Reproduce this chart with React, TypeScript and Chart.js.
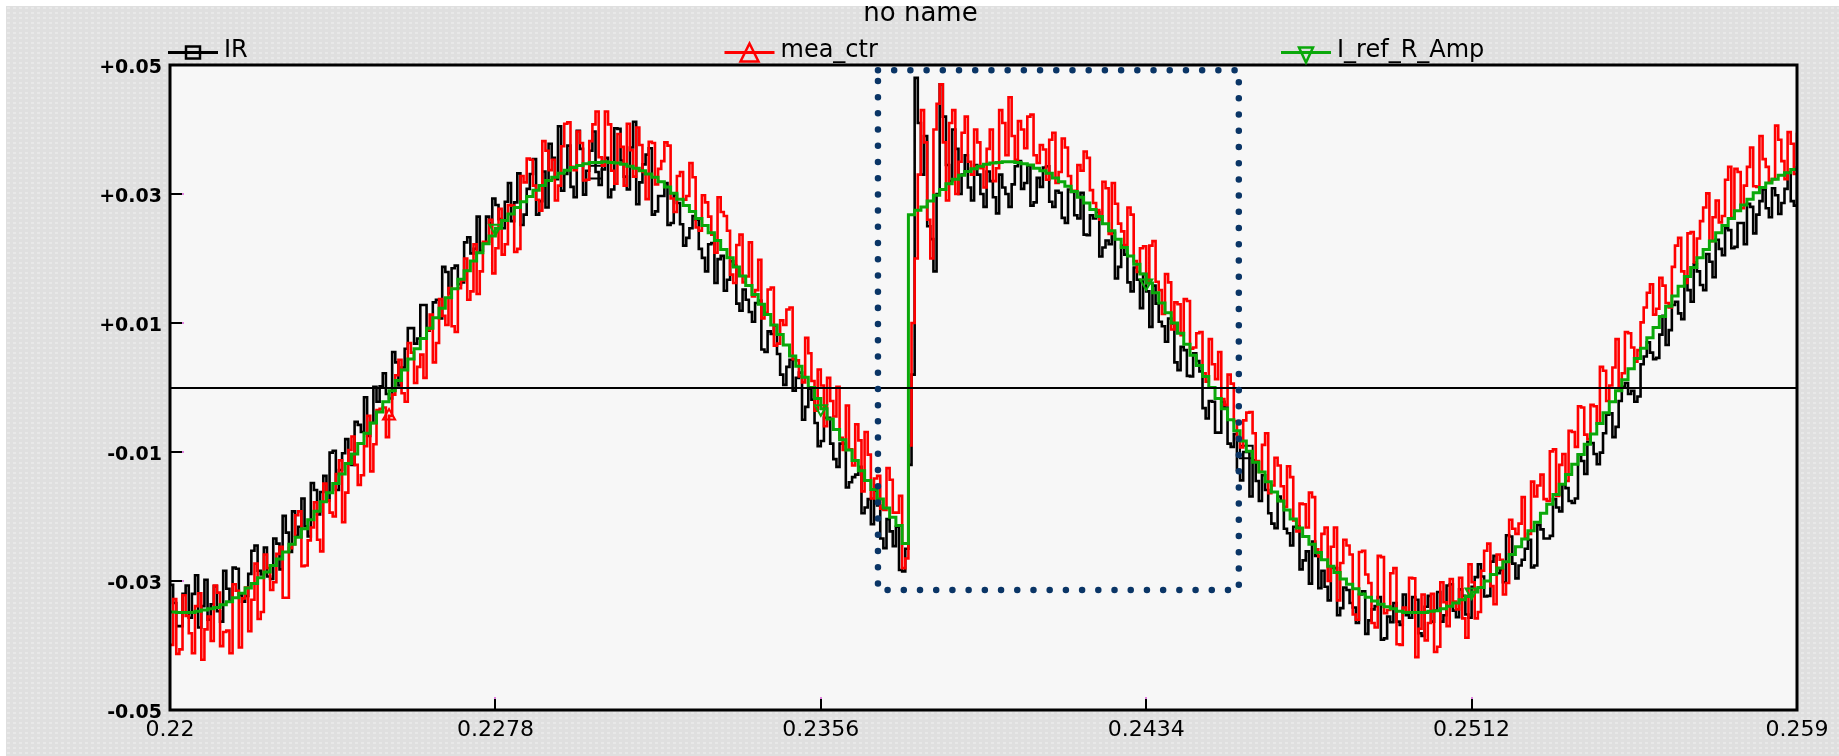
import React, { useEffect, useRef } from 'react';
import { Chart, registerables } from 'chart.js';

Chart.register(...registerables);

const CHART_TITLE = 'no name';
const SERIES_NAMES = ['IR', 'mea_ctr', 'I_ref_R_Amp'];
const SERIES_COLORS = ['#000000', '#ff0000', '#0aa80a'];

const X_TICKS = [0.22, 0.2278, 0.2356, 0.2434, 0.2512, 0.259];
const X_TICK_LABELS = ['0.22', '0.2278', '0.2356', '0.2434', '0.2512', '0.259'];
const Y_TICKS = [-0.05, -0.03, -0.01, 0.01, 0.03, 0.05];
const Y_TICK_LABELS = ['-0.05', '-0.03', '-0.01', '+0.01', '+0.03', '+0.05'];

// sample clock of the recorded signals (IR / mea_ctr also have a half-step sample in between)
const T_START = 0.22;
const T_STEP = 0.00015;

const IR = [
  -.0306,-.037,-.032,-.0357,-.0291,-.0339,-.036,-.0308,-.0363,-.0312,
  -.0279,-.0322,-.0323,-.0253,-.0284,-.0248,-.0297,-.0242,-.0199,-.0255,
  -.023,-.0172,-.0231,-.0159,-.0162,-.0175,-.0098,-.0128,-.008,-.012,
  -.0058,-.0015,-.0055,-.0022,.0022,-.0017,.0039,.0031,.0092,.0068,
  .0128,.0088,.0132,.0107,.0179,.0185,.016,.0225,.0208,.0265,
  .0223,.0255,.0283,.0247,.0317,.0287,.0252,.0308,.0354,.0289,
  .0279,.0356,.0405,.0331,.0311,.0398,.0299,.0367,.0334,.0338,
  .0295,.0402,.0352,.0307,.0412,.0318,.0361,.0268,.0297,.0317,
  .0255,.0286,.022,.0247,.026,.0201,.0222,.0162,.0204,.0167,
  .0189,.0119,.0136,.0102,.0135,.0055,.0083,.0052,.0004,.0043,
  .0015,-.005,-.0002,-.0055,-.0083,-.0047,-.0111,-.0087,-.0155,-.0139,
  -.0123,-.0186,-.0212,-.0183,-.0249,-.0223,-.0216,-.0285,-.012,.048,
  .033,.025,.018,.047,.0345,.04,.03,.036,.029,.033,
  .028,.032,.027,.031,.028,.0343,.0308,.0344,.0287,.0311,
  .0343,.028,.0302,.0255,.0303,.0262,.0237,.0267,.0272,.0217,
  .0222,.0169,.022,.0163,.0186,.0123,.0149,.0158,.0102,.0071,
  .0099,.0027,.0058,.0017,.0041,-.0032,-.0021,-.007,-.0022,-.0087,
  -.0072,-.0144,-.01,-.0113,-.0176,-.0159,-.0211,-.0169,-.0219,-.0245,
  -.0215,-.0268,-.0304,-.0261,-.0284,-.033,-.028,-.0342,-.0314,-.0341,
  -.0321,-.0382,-.0344,-.0325,-.0389,-.0364,-.0363,-.0321,-.0357,-.0329,
  -.0385,-.0323,-.0346,-.0363,-.0307,-.0346,-.0313,-.0352,-.0309,-.0274,
  -.0324,-.027,-.0288,-.0302,-.0231,-.0296,-.0267,-.0236,-.0276,-.022,
  -.0234,-.0173,-.0192,-.0156,-.0179,-.0104,-.0134,-.0086,-.0119,-.0071,
  -.004,-.0061,.0001,-.001,-.0022,.0036,.007,.0044,.0082,.0066,
  .0128,.0115,.0172,.0133,.018,.0151,.0195,.0229,.0205,.0244,
  .0218,.0255,.0285,.0239,.0289,.0278,.0309,.0269,.0308,.0289,
  .033,
];

const IR_MID = [
  -.0334,-.037,-.0307,-.032,-.0372,-.0298,-.0336,-.0347,-.0284,-.0332,
  -.0281,-.0332,-.0289,-.0245,-.029,-.0293,-.0234,-.0282,-.0225,-.0192,
  -.0216,-.0215,-.0148,-.0197,-.0137,-.0101,-.0159,-.0102,-.0119,-.0053,
  -.0069,-.0075,.0001,.0002,-.001,.0055,.0003,.006,.0092,.0076,
  .0128,.0092,.0136,.0187,.0146,.0189,.0163,.0233,.0215,.0212,
  .0265,.0293,.0261,.0288,.0258,.0332,.0268,.0331,.0268,.0335,
  .0378,.0323,.0305,.0375,.0295,.037,.0336,.0397,.0314,.0356,
  .0307,.0401,.0327,.0372,.0284,.0346,.0371,.0273,.0297,.0252,
  .0299,.0253,.0232,.0266,.0215,.018,.0224,.0199,.015,.0196,
  .013,.0152,.0117,.0131,.0059,.0087,.0096,.002,.0032,-.0005,
  .0023,-.003,-.0019,-.0091,-.0047,-.0087,-.0123,-.0087,-.0147,-.0135,
  -.0195,-.0173,-.016,-.0234,-.0204,-.0246,-.0283,-.025,.002,.041,
  .039,.023,.03,.042,.032,.037,.033,.031,.0345,.03,
  .0335,.0295,.033,.03,.0315,.0351,.0317,.0282,.0325,.0341,
  .0288,.0305,.0263,.0307,.0267,.0302,.0236,.0262,.0203,.0228,
  .024,.0187,.0206,.0149,.0167,.0176,.0094,.013,.0095,.0107,
  .0039,.0063,.0018,.0053,.0025,-.0048,-.0022,-.007,-.0031,-.0092,
  -.0128,-.01,-.0169,-.0145,-.0136,-.0195,-.0218,-.0176,-.0226,-.0216,
  -.0282,-.0254,-.0239,-.0311,-.0309,-.0279,-.0353,-.031,-.0334,-.0365,
  -.0316,-.0361,-.0339,-.0391,-.0355,-.0334,-.0368,-.0353,-.0325,-.0381,
  -.034,-.0363,-.0317,-.0353,-.0305,-.0356,-.0323,-.0357,-.0294,-.0293,
  -.0323,-.0261,-.0283,-.0229,-.0273,-.0276,-.025,-.0279,-.0213,-.0234,
  -.023,-.0186,-.015,-.0176,-.0172,-.0114,-.0084,-.0103,-.0101,-.0042,
  -.0077,-.0021,.0007,-.0005,-.0014,.0048,.0054,.0046,.0111,.0089,
  .0133,.0106,.0151,.0191,.0159,.0207,.0171,.0215,.0247,.0216,
  .0255,.0222,.028,.0268,.0307,.0264,.0298,.0286,.0333,.0282,
];

const MEA_CTR = [
  -.0399,-.0413,-.0322,-.0381,-.0339,-.0422,-.0355,-.0307,-.0401,-.0377,
  -.0305,-.0403,-.031,-.0329,-.0359,-.0259,-.0314,-.0258,-.0326,-.0249,
  -.0198,-.0277,-.0237,-.0178,-.0254,-.0175,-.02,-.0113,-.0163,-.0076,
  -.0151,-.0091,-.013,-.0035,-.0031,-.0044,.0019,-.0009,.0069,.0007,
  .0051,.0089,.0039,.0137,.0097,.0095,.0154,.02,.0149,.0145,
  .0226,.026,.0216,.0206,.0283,.021,.0328,.0355,.0313,.0274,
  .0367,.0353,.0313,.0409,.0342,.0397,.0321,.0382,.0428,.0344,
  .0408,.0316,.0373,.0409,.0327,.0376,.0292,.0379,.0339,.038,
  .0293,.0328,.0291,.0348,.0248,.0298,.0265,.0209,.0272,.0243,
  .0162,.0237,.0172,.0141,.0198,.0116,.0155,.0068,.0097,.0124,
  .0042,.0008,.0053,-.0036,.0003,.0015,-.0045,-.0078,-.0028,-.0121,
  -.0082,-.0069,-.0172,-.0137,-.019,-.0143,-.0194,-.028,-.009,.02,
  .043,.026,.04,.047,.029,.043,.035,.042,.033,.038,
  .031,.04,.034,.041,.045,.0353,.04,.042,.036,.0376,
  .0322,.0395,.0334,.0372,.0304,.0345,.0366,.0306,.0275,.0319,
  .0238,.0285,.0242,.0279,.0196,.0216,.0162,.0227,.0151,.0176,
  .009,.0129,.0137,.006,.0084,.0022,.0075,.0013,-.0018,.002,
  -.0052,-.0093,-.0039,-.0071,-.0131,-.0071,-.0152,-.0121,-.0185,-.0139,
  -.0223,-.0181,-.0163,-.0251,-.0227,-.03,-.0217,-.0272,-.0245,-.0352,
  -.0255,-.029,-.0365,-.0261,-.035,-.0288,-.0398,-.0341,-.0295,-.0418,
  -.0321,-.0365,-.041,-.0302,-.037,-.0332,-.0295,-.0388,-.0302,-.0348,
  -.0253,-.0308,-.0259,-.0321,-.0205,-.0227,-.017,-.0227,-.0169,-.0135,
  -.0176,-.0096,-.012,-.0145,-.0069,-.0029,-.0073,-.0027,-.0056,.0026,
  .0003,.0075,.0022,.0084,.004,.0101,.0147,.0113,.017,.0131,
  .0187,.0232,.0162,.0241,.0231,.0279,.0227,.029,.0266,.0342,
  .0339,.0278,.0342,.0312,.039,.0342,.0323,.0384,.0323,.0378,
  .0395,
];

const MEA_CTR_MID = [
  -.0328,-.0406,-.0354,-.0412,-.0319,-.0375,-.0393,-.0318,-.0379,-.0412,
  -.0315,-.0327,-.0378,-.0273,-.0348,-.028,-.0302,-.0247,-.0326,-.0243,
  -.0192,-.0276,-.0217,-.0236,-.0149,-.0194,-.0134,-.0209,-.0097,-.012,
  -.0136,-.0044,-.0088,-.0033,-.0077,-.0011,.0043,-.0022,.0054,.0032,
  .0015,.0113,.0069,.0111,.0154,.0086,.0166,.0136,.0222,.018,
  .0226,.0177,.0277,.0222,.0282,.0215,.0318,.0353,.0291,.0382,
  .0337,.029,.0374,.0411,.0337,.0379,.0322,.0408,.0357,.0428,
  .0336,.0393,.0313,.0368,.0403,.0334,.0381,.0315,.0351,.0375,
  .0272,.0334,.0297,.0326,.0243,.0287,.0237,.0295,.0266,.0175,
  .0221,.0163,.0225,.0151,.0107,.0152,.0065,.0104,.0121,.0044,
  .0017,.0077,.001,.0028,-.006,-.0021,.0001,-.0097,-.0096,-.0057,
  -.0161,-.0104,-.0141,-.0188,-.0125,-.0194,-.0168,-.0265,.01,.033,
  .038,.02,.044,.038,.041,.03,.0395,.035,.04,.034,
  .037,.032,.043,.036,.039,.0413,.0371,.0423,.0348,.0369,
  .0384,.0317,.0386,.0328,.0305,.0336,.0356,.0286,.026,.0309,
  .0317,.0254,.0221,.0268,.0179,.0219,.022,.0164,.0114,.0163,
  .0132,.0081,.0134,.0062,.0086,.0009,.0036,.0055,-.0027,.0006,
  -.008,-.0051,-.0038,-.0114,-.0089,-.0164,-.0109,-.0153,-.0122,-.0206,
  -.018,-.0217,-.017,-.0262,-.0217,-.0247,-.033,-.0236,-.0259,-.036,
  -.0253,-.0303,-.0372,-.0263,-.0345,-.028,-.0399,-.0348,-.0296,-.0374,
  -.0392,-.032,-.0402,-.0333,-.0297,-.0344,-.0358,-.0274,-.0358,-.0284,
  -.0242,-.0336,-.0267,-.0303,-.0219,-.0211,-.0234,-.0146,-.0152,-.0173,
  -.0099,-.0168,-.0103,-.0067,-.0092,-.0031,-.008,-.0029,.0032,-.0021,
  .0031,-.0001,.0086,.0062,.0058,.0124,.016,.0122,.0158,.0124,
  .022,.018,.0239,.0194,.0258,.0301,.0264,.0256,.0322,.0263,
  .0334,.0313,.0372,.0311,.0354,.032,.0406,.0351,.0396,.0331,
];

const I_REF_R_AMP = [
  -.0348,-.0349,-.0349,-.0349,-.0347,-.0345,-.0343,-.0341,-.0337,-.0332,
  -.0326,-.0319,-.0311,-.0304,-.0295,-.0286,-.0276,-.0266,-.0255,-.0243,
  -.0232,-.0219,-.0205,-.0192,-.0177,-.0163,-.0149,-.0134,-.0118,-.0103,
  -.0087,-.0071,-.0055,-.0038,-.0022,-.0005,.0011,.0027,.0044,.006,
  .0076,.0092,.0108,.0123,.0139,.0153,.0168,.0181,.0196,.0209,
  .0223,.0235,.0247,.0259,.0269,.0279,.0288,.0296,.0306,.0313,
  .0321,.0326,.0332,.0337,.0341,.0344,.0347,.0349,.0349,.035,
  .0349,.0348,.0346,.0343,.034,.0336,.0331,.0326,.0319,.0311,
  .0301,.0292,.0282,.0273,.0262,.0251,.024,.0228,.0214,.0201,
  .0187,.0173,.0158,.0144,.0129,.0113,.0097,.0082,.0066,.0049,
  .0033,.0016,0,-.0017,-.0033,-.0049,-.0065,-.0081,-.0097,-.0113,
  -.0129,-.0144,-.0158,-.0173,-.0187,-.0201,-.0214,-.0242,.0268,.0275,
  .028,.0289,.0298,.0307,.0316,.0323,.0329,.0335,.0339,.0343,
  .0346,.0348,.0349,.035,.035,.0349,.0347,.0345,.034,.0336,
  .0332,.0325,.0319,.0312,.0304,.0295,.0286,.0276,.0265,.0254,
  .0243,.023,.0217,.0204,.0191,.0176,.0162,.0147,.0131,.0116,
  .01,.0084,.0067,.005,.0034,.0017,0,-.0017,-.0033,-.005,
  -.0067,-.0083,-.0099,-.0116,-.0131,-.0146,-.0162,-.0176,-.019,-.0204,
  -.0218,-.0231,-.0243,-.0256,-.0267,-.0277,-.0287,-.0297,-.0305,-.0312,
  -.032,-.0325,-.0331,-.0336,-.034,-.0343,-.0347,-.0349,-.0349,-.0349,
  -.0349,-.0347,-.0346,-.0343,-.0339,-.0334,-.0329,-.0324,-.0317,-.031,
  -.03,-.029,-.028,-.027,-.0259,-.0247,-.0235,-.0222,-.0209,-.0195,
  -.0181,-.0166,-.015,-.0135,-.0119,-.0104,-.0088,-.0072,-.0056,-.0039,
  -.0022,-.0005,.0012,.0029,.0045,.0061,.0077,.0093,.011,.0126,
  .0142,.0157,.0172,.0186,.0201,.0214,.0227,.024,.0251,.0262,
  .0274,.0283,.0292,.0302,.031,.0317,.0323,.0329,.0333,.0338,
  .0343,
];

// sample indices carrying a series marker
const IR_MARKERS = [68, 172];
const MEA_MARKERS = [35];
const REF_MARKERS = [52, 104, 156, 208];

// highlighted region (data units)
const BOX_X = [0.23697, 0.24562];
const BOX_Y = [-0.0314, 0.0492];

const toPoints = (arr: number[]) => arr.map((v, i) => ({ x: T_START + i * T_STEP, y: v }));
const interleave = (main: number[], mid: number[]) => {
  const pts: { x: number; y: number }[] = [];
  main.forEach((v, i) => {
    pts.push({ x: T_START + i * T_STEP, y: v });
    if (i < mid.length) pts.push({ x: T_START + (i + 0.5) * T_STEP, y: mid[i] });
  });
  return pts;
};
const radii = (n: number, marks: number[], r: number, stride: number) =>
  Array.from({ length: n }, (_, k) => (k % stride === 0 && marks.includes(k / stride) ? r : 0));

function makePattern(ctx: CanvasRenderingContext2D) {
  const pc = document.createElement('canvas');
  pc.width = 6;
  pc.height = 5;
  const p = pc.getContext('2d')!;
  p.fillStyle = '#dfdfdf';
  p.fillRect(0, 0, 6, 5);
  p.fillStyle = '#e8e8e8';
  p.fillRect(1, 1, 3, 2);
  return ctx.createPattern(pc, 'repeat')!;
}

const framePlugin = {
  id: 'framePlugin',
  beforeDraw(chart: any) {
    const { ctx, chartArea: a, width, height } = chart;
    ctx.save();
    ctx.fillStyle = makePattern(ctx);
    ctx.fillRect(0, 0, width, height);
    ctx.fillStyle = '#f7f7f7';
    ctx.fillRect(a.left, a.top, a.right - a.left, a.bottom - a.top);
    ctx.restore();
  },
  afterDatasetsDraw(chart: any) {
    const { ctx, chartArea: a } = chart;
    const xs = chart.scales.x;
    const ys = chart.scales.y;
    ctx.save();
    const y0 = Math.round(ys.getPixelForValue(0));
    ctx.strokeStyle = '#000';
    ctx.lineWidth = 2;
    ctx.beginPath();
    ctx.moveTo(a.left, y0);
    ctx.lineTo(a.right, y0);
    ctx.stroke();
    const bx0 = xs.getPixelForValue(BOX_X[0]);
    const bx1 = xs.getPixelForValue(BOX_X[1]);
    const by0 = ys.getPixelForValue(BOX_Y[1]);
    const by1 = ys.getPixelForValue(BOX_Y[0]);
    ctx.strokeStyle = '#0a3566';
    ctx.lineWidth = 6.5;
    ctx.lineCap = 'round';
    ctx.setLineDash([0.01, 16.2]);
    ctx.beginPath();
    ctx.moveTo(bx0, by0);
    ctx.lineTo(bx1, by0);
    ctx.lineTo(bx1, by1);
    ctx.lineTo(bx0, by1);
    ctx.closePath();
    ctx.stroke();
    ctx.setLineDash([]);
    ctx.lineCap = 'butt';
    ctx.lineWidth = 2;
    Y_TICKS.forEach((v) => {
      if (v <= -0.05 || v >= 0.05) return;
      const py = Math.round(ys.getPixelForValue(v));
      ctx.strokeStyle = '#000';
      ctx.beginPath();
      ctx.moveTo(a.left, py);
      ctx.lineTo(a.left + 12, py);
      ctx.stroke();
      ctx.strokeStyle = '#e080e0';
      ctx.beginPath();
      ctx.moveTo(a.left + 12, py);
      ctx.lineTo(a.left + 14, py);
      ctx.stroke();
    });
    X_TICKS.forEach((v) => {
      if (v <= 0.22 || v >= 0.259) return;
      const px = Math.round(xs.getPixelForValue(v));
      ctx.strokeStyle = '#000';
      ctx.beginPath();
      ctx.moveTo(px, a.bottom);
      ctx.lineTo(px, a.bottom - 11);
      ctx.stroke();
      ctx.strokeStyle = '#e080e0';
      ctx.beginPath();
      ctx.moveTo(px, a.bottom - 11);
      ctx.lineTo(px, a.bottom - 13);
      ctx.stroke();
    });
    ctx.strokeStyle = '#000';
    ctx.lineWidth = 3;
    ctx.strokeRect(a.left, a.top, a.right - a.left, a.bottom - a.top);
    ctx.restore();
  },
  afterDraw(chart: any) {
    const { ctx, chartArea: a, width } = chart;
    ctx.save();
    ctx.fillStyle = '#000';
    ctx.font = '26px "DejaVu Sans"';
    ctx.textAlign = 'center';
    ctx.textBaseline = 'alphabetic';
    ctx.fillText(CHART_TITLE, width / 2 - 2, 15);

    ctx.textAlign = 'left';
    ctx.font = '24px "DejaVu Sans"';
    const lineY = 46.5;
    SERIES_NAMES.forEach((name, k) => {
      const x0 = a.left - 2 + k * 556.5;
      const color = SERIES_COLORS[k];
      const cx = x0 + 25;
      ctx.strokeStyle = color;
      ctx.lineWidth = 3;
      ctx.beginPath();
      ctx.moveTo(x0, lineY);
      ctx.lineTo(x0 + 50, lineY);
      ctx.stroke();
      ctx.lineWidth = 2.5;
      ctx.beginPath();
      if (k === 0) {
        ctx.rect(cx - 7, lineY - 6, 14, 12);
      } else if (k === 1) {
        ctx.moveTo(cx, lineY - 9);
        ctx.lineTo(cx + 9, lineY + 9);
        ctx.lineTo(cx - 9, lineY + 9);
        ctx.closePath();
      } else {
        ctx.moveTo(cx - 7, lineY - 5);
        ctx.lineTo(cx + 7, lineY - 5);
        ctx.lineTo(cx, lineY + 10);
        ctx.closePath();
      }
      ctx.stroke();
      ctx.fillStyle = '#000';
      ctx.fillText(name, x0 + 56, 51);
    });
    ctx.restore();
  },
};

export default function App() {
  const ref = useRef<HTMLCanvasElement | null>(null);

  useEffect(() => {
    document.documentElement.style.overflow = 'hidden';
    document.body.style.overflow = 'hidden';
    document.body.style.margin = '6px 0 0 6px';
    const canvas = ref.current!;
    const irPts = interleave(IR, IR_MID);
    const meaPts = interleave(MEA_CTR, MEA_CTR_MID);
    const chart = new Chart(canvas, {
      type: 'line',
      data: {
        datasets: [
          {
            label: SERIES_NAMES[0],
            data: irPts,
            borderColor: SERIES_COLORS[0],
            borderWidth: 2.6,
            stepped: true,
            pointRadius: radii(irPts.length, IR_MARKERS, 9, 2),
            pointStyle: 'rect',
            pointBorderColor: SERIES_COLORS[0],
            pointBackgroundColor: 'rgba(0,0,0,0)',
            pointBorderWidth: 2,
            order: 2,
          },
          {
            label: SERIES_NAMES[1],
            data: meaPts,
            borderColor: SERIES_COLORS[1],
            borderWidth: 2.6,
            stepped: true,
            pointRadius: radii(meaPts.length, MEA_MARKERS, 7, 2),
            pointStyle: 'triangle',
            pointBorderColor: SERIES_COLORS[1],
            pointBackgroundColor: 'rgba(0,0,0,0)',
            pointBorderWidth: 2,
            order: 1,
          },
          {
            label: SERIES_NAMES[2],
            data: toPoints(I_REF_R_AMP),
            borderColor: SERIES_COLORS[2],
            borderWidth: 3,
            stepped: true,
            pointRadius: radii(I_REF_R_AMP.length, REF_MARKERS, 7, 1),
            pointStyle: 'triangle',
            pointRotation: 180,
            pointBorderColor: SERIES_COLORS[2],
            pointBackgroundColor: 'rgba(0,0,0,0)',
            pointBorderWidth: 2,
            order: 0,
          },
        ] as any,
      },
      options: {
        animation: false,
        responsive: false,
        devicePixelRatio: 1,
        events: [],
        layout: { padding: { top: 59, right: 42, left: 0, bottom: 0 } },
        plugins: {
          legend: { display: false },
          title: { display: false },
          tooltip: { enabled: false },
        },
        scales: {
          x: {
            type: 'linear',
            min: 0.22,
            max: 0.259,
            afterBuildTicks: (s: any) => {
              s.ticks = X_TICKS.map((v) => ({ value: v }));
            },
            afterFit: (s: any) => {
              s.height = 46;
            },
            grid: { display: false, drawTicks: false },
            border: { display: false },
            ticks: {
              autoSkip: false,
              maxRotation: 0,
              minRotation: 0,
              padding: 7,
              color: '#000',
              font: { family: 'DejaVu Sans', size: 22 },
              callback: (_v: any, i: number) => X_TICK_LABELS[i],
            },
          },
          y: {
            type: 'linear',
            min: -0.05,
            max: 0.05,
            afterBuildTicks: (s: any) => {
              s.ticks = Y_TICKS.map((v) => ({ value: v }));
            },
            afterFit: (s: any) => {
              s.width = 164;
            },
            grid: { display: false, drawTicks: false },
            border: { display: false },
            ticks: {
              autoSkip: false,
              padding: 8,
              labelOffset: 3,
              color: '#000',
              font: { family: 'DejaVu Sans', size: 19, weight: 'bold' },
              callback: (_v: any, i: number) => Y_TICK_LABELS[i],
            },
          },
        },
      } as any,
      plugins: [framePlugin],
    });
    return () => chart.destroy();
  }, []);

  return (
    <div style={{ width: 1833, height: 750 }}>
      <canvas ref={ref} width={1833} height={750} style={{ display: 'block' }} />
    </div>
  );
}
